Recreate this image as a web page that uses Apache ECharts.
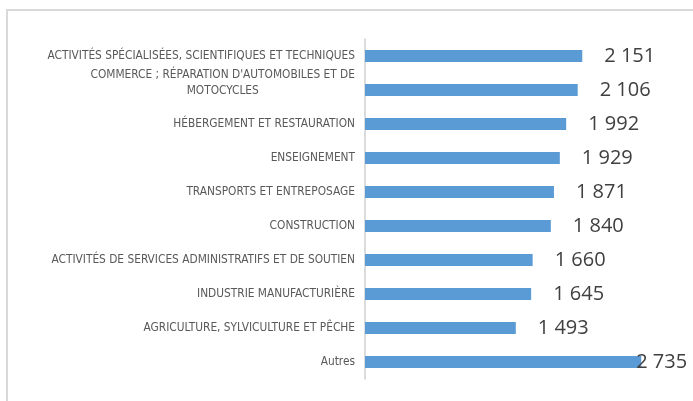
<!DOCTYPE html>
<html>
<head>
<meta charset="utf-8">
<script src="https://cdn.jsdelivr.net/npm/echarts@6/dist/echarts.min.js"></script>
<style>
  html, body { margin: 0; padding: 0; background: #fff; }
  #chart { width: 693px; height: 401px; }
</style>
</head>
<body>
<div id="chart"></div>
<script>
// Sectors, top to bottom
const categories = [
  "ACTIVITÉS SPÉCIALISÉES, SCIENTIFIQUES ET TECHNIQUES",
  "COMMERCE ; RÉPARATION D'AUTOMOBILES ET DE\nMOTOCYCLES",
  "HÉBERGEMENT ET RESTAURATION",
  "ENSEIGNEMENT",
  "TRANSPORTS ET ENTREPOSAGE",
  "CONSTRUCTION",
  "ACTIVITÉS DE SERVICES ADMINISTRATIFS ET DE SOUTIEN",
  "INDUSTRIE MANUFACTURIÈRE",
  "AGRICULTURE, SYLVICULTURE ET PÊCHE",
  "Autres"
];
const values = [2151, 2106, 1992, 1929, 1871, 1840, 1660, 1645, 1493, 2735];

const fmt = v => String(v).replace(/\B(?=(\d{3})+(?!\d))/g, " ");

const labelFont = "'DejaVu Sans Condensed', Roboto, sans-serif";
const valueFont = "'Open Sans', sans-serif";
const labelSize = 11.8;

const chart = echarts.init(document.getElementById("chart"), null, { renderer: "canvas" });

const catData = categories.map(c => {
  if (c.indexOf("\n") >= 0) {
    return { value: c, textStyle: { padding: [0, 0, 14, 0] } };
  }
  return c;
});

const barData = values.map((v, i) => {
  const item = { value: v };
  if (i === values.length - 1) {
    item.label = { distance: -5 };
  }
  return item;
});

chart.setOption({
  animation: false,
  graphic: [{
    type: "rect",
    shape: { x: 7, y: 10, width: 700, height: 400 },
    style: { fill: "none", stroke: "#d9d9d9", lineWidth: 2 },
    silent: true
  }],
  grid: { left: 365, top: 39, width: 303, height: 340 },
  xAxis: {
    type: "value",
    min: 0,
    max: 3000,
    show: false
  },
  yAxis: {
    type: "category",
    inverse: true,
    data: catData,
    axisLine: { show: true, lineStyle: { color: "#d0d0d0", width: 1.5 } },
    axisTick: { show: false },
    axisLabel: {
      margin: 10,
      color: "#595959",
      fontFamily: labelFont,
      fontSize: labelSize,
      lineHeight: 16,
      formatter: v => {
        if (v.indexOf("\n") >= 0) {
          return v.split("\n").map(l => "{c|" + l + "}").join("\n");
        }
        return v;
      },
      rich: {
        c: { align: "center", color: "#595959", fontFamily: labelFont, fontSize: labelSize, lineHeight: 16 }
      }
    }
  },
  series: [{
    type: "bar",
    data: barData,
    barWidth: 12,
    itemStyle: { color: "#5b9bd5" },
    label: {
      show: true,
      position: "right",
      distance: 22,
      color: "#404040",
      fontFamily: valueFont,
      fontSize: 20,
      formatter: p => fmt(p.value)
    }
  }]
});
</script>
</body>
</html>
